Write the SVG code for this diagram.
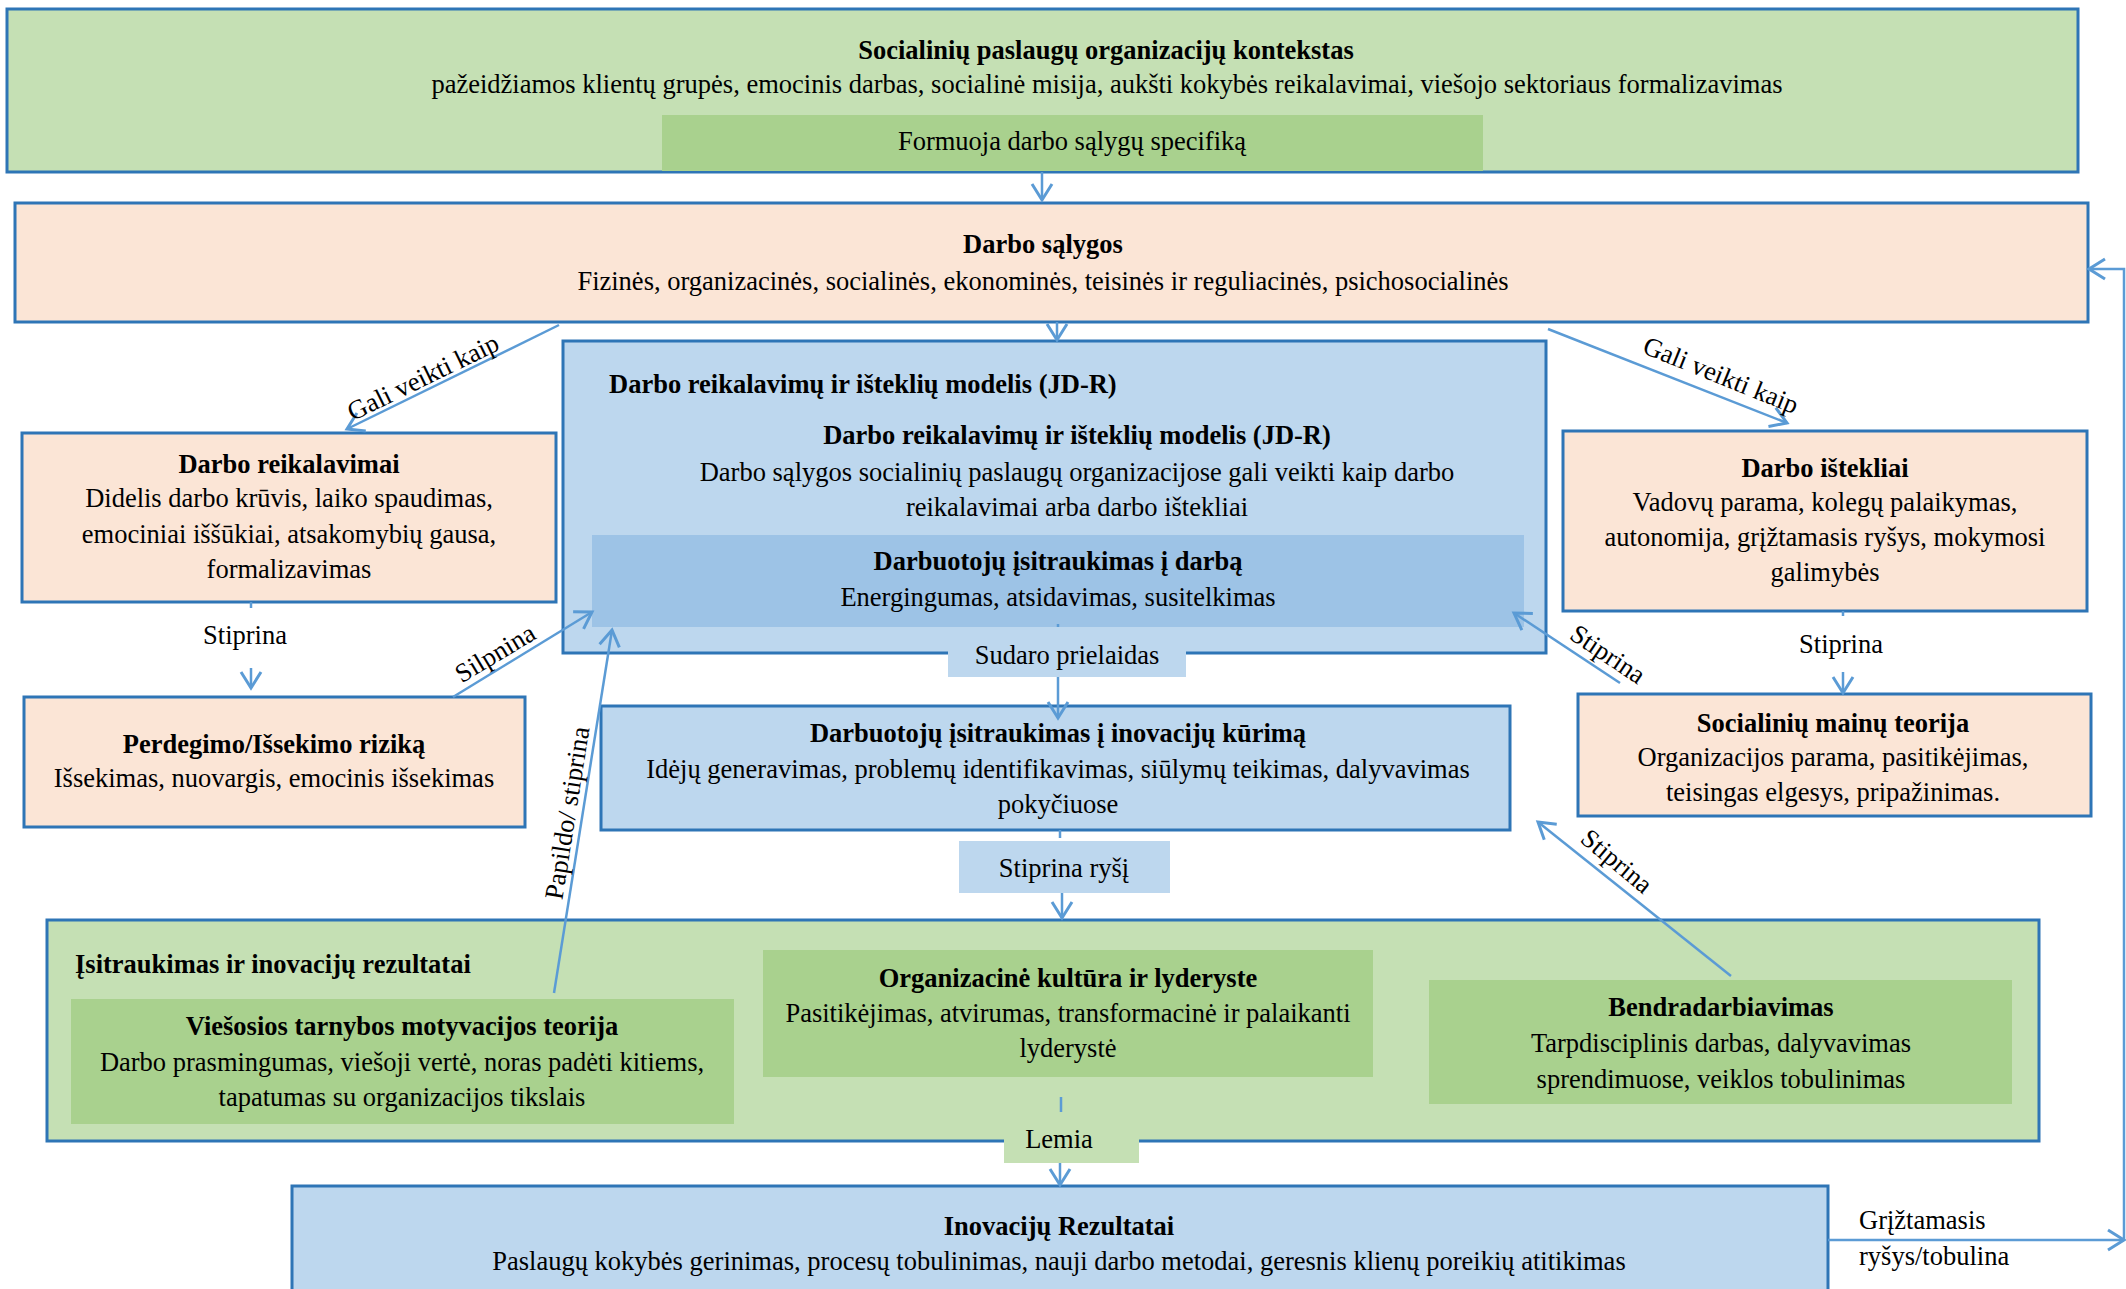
<svg xmlns="http://www.w3.org/2000/svg" width="2126" height="1289" viewBox="0 0 2126 1289">
  <style>
    text { font-family: "Liberation Serif", "Times New Roman", serif; font-size: 26.5px; fill: #000; }
    .c { text-anchor: middle; }
    .b { font-weight: bold; }
    .frame { stroke: #2E75B6; stroke-width: 3; }
    .peach { fill: #FBE5D6; }
    .lgreen { fill: #C5E0B4; }
    .dgreen { fill: #A9D18E; }
    .lblue { fill: #BDD7EE; }
    .dblue { fill: #9DC3E6; }
    .link { fill: none; stroke: #5B9BD5; stroke-width: 2.5; }
    .arrow { marker-end: url(#head); }
  </style>
  <defs>
    <marker id="head" markerUnits="userSpaceOnUse" markerWidth="40" markerHeight="40" viewBox="-20 -20 40 40" refX="0" refY="0" orient="auto" overflow="visible">
      <path d="M-16,-10 L0,0 L-16,10" fill="none" stroke="#5B9BD5" stroke-width="3"/>
    </marker>
  </defs>

  <rect width="2126" height="1289" fill="#fff"/>

  <!-- context -->
  <g id="kontekstas">
    <rect class="lgreen frame" x="7" y="9" width="2071" height="163"/>
    <rect class="dgreen" x="662" y="115" width="821" height="56"/>
    <text class="c b" x="1106" y="59">Socialinių paslaugų organizacijų kontekstas</text>
    <text class="c" x="1107" y="93">pažeidžiamos klientų grupės, emocinis darbas, socialinė misija, aukšti kokybės reikalavimai, viešojo sektoriaus formalizavimas</text>
    <text class="c" x="1072" y="150">Formuoja darbo sąlygų specifiką</text>
  </g>

  <g id="darbo-salygos">
    <rect class="peach frame" x="15" y="203" width="2073" height="119"/>
    <text class="c b" x="1043" y="253">Darbo sąlygos</text>
    <text class="c" x="1043" y="290">Fizinės, organizacinės, socialinės, ekonominės, teisinės ir reguliacinės, psichosocialinės</text>
  </g>

  <g id="jdr-modelis">
    <rect class="lblue frame" x="563" y="341" width="983" height="312"/>
    <text class="b" x="609" y="393">Darbo reikalavimų ir išteklių modelis (JD-R)</text>
    <text class="c b" x="1077" y="444">Darbo reikalavimų ir išteklių modelis (JD-R)</text>
    <text class="c" x="1077" y="481">Darbo sąlygos socialinių paslaugų organizacijose gali veikti kaip darbo</text>
    <text class="c" x="1077" y="516">reikalavimai arba darbo ištekliai</text>
  </g>

  <g id="isitraukimas-darba">
    <rect class="dblue" x="592" y="535" width="932" height="92"/>
    <text class="c b" x="1058" y="570">Darbuotojų įsitraukimas į darbą</text>
    <text class="c" x="1058" y="606">Energingumas, atsidavimas, susitelkimas</text>
  </g>

  <g id="darbo-reikalavimai">
    <rect class="peach frame" x="22" y="433" width="534" height="169"/>
    <text class="c b" x="289" y="473">Darbo reikalavimai</text>
    <text class="c" x="289" y="507">Didelis darbo krūvis, laiko spaudimas,</text>
    <text class="c" x="289" y="543">emociniai iššūkiai, atsakomybių gausa,</text>
    <text class="c" x="289" y="578">formalizavimas</text>
  </g>

  <g id="perdegimas">
    <rect class="peach frame" x="24" y="697" width="501" height="130"/>
    <text class="c b" x="274" y="753">Perdegimo/Išsekimo riziką</text>
    <text class="c" x="274" y="787">Išsekimas, nuovargis, emocinis išsekimas</text>
  </g>

  <g id="darbo-istekliai">
    <rect class="peach frame" x="1563" y="431" width="524" height="180"/>
    <text class="c b" x="1825" y="477">Darbo ištekliai</text>
    <text class="c" x="1825" y="511">Vadovų parama, kolegų palaikymas,</text>
    <text class="c" x="1825" y="546">autonomija, grįžtamasis ryšys, mokymosi</text>
    <text class="c" x="1825" y="581">galimybės</text>
  </g>

  <g id="socialiniu-mainu-teorija">
    <rect class="peach frame" x="1578" y="694" width="513" height="122"/>
    <text class="c b" x="1833" y="732">Socialinių mainų teorija</text>
    <text class="c" x="1833" y="766">Organizacijos parama, pasitikėjimas,</text>
    <text class="c" x="1833" y="801">teisingas elgesys, pripažinimas.</text>
  </g>

  <g id="isitraukimas-inovacijos">
    <rect class="lblue frame" x="601" y="706" width="909" height="124"/>
    <text class="c b" x="1058" y="742">Darbuotojų įsitraukimas į inovacijų kūrimą</text>
    <text class="c" x="1058" y="778">Idėjų generavimas, problemų identifikavimas, siūlymų teikimas, dalyvavimas</text>
    <text class="c" x="1058" y="813">pokyčiuose</text>
  </g>

  <g id="rezultatai">
    <rect class="lgreen frame" x="47" y="920" width="1992" height="221"/>
    <text class="b" x="75" y="973">Įsitraukimas ir inovacijų rezultatai</text>
  </g>

  <g id="viesosios-tarnybos-motyvacija">
    <rect class="dgreen" x="71" y="999" width="663" height="125"/>
    <text class="c b" x="402" y="1035">Viešosios tarnybos motyvacijos teorija</text>
    <text class="c" x="402" y="1071">Darbo prasmingumas, viešoji vertė, noras padėti kitiems,</text>
    <text class="c" x="402" y="1106">tapatumas su organizacijos tikslais</text>
  </g>

  <g id="organizacine-kultura">
    <rect class="dgreen" x="763" y="950" width="610" height="127"/>
    <text class="c b" x="1068" y="987">Organizacinė kultūra ir lyderyste</text>
    <text class="c" x="1068" y="1022">Pasitikėjimas, atvirumas, transformacinė ir palaikanti</text>
    <text class="c" x="1068" y="1057">lyderystė</text>
  </g>

  <g id="bendradarbiavimas">
    <rect class="dgreen" x="1429" y="980" width="583" height="124"/>
    <text class="c b" x="1721" y="1016">Bendradarbiavimas</text>
    <text class="c" x="1721" y="1052">Tarpdisciplinis darbas, dalyvavimas</text>
    <text class="c" x="1721" y="1088">sprendimuose, veiklos tobulinimas</text>
  </g>

  <g id="inovaciju-rezultatai">
    <rect class="lblue frame" x="292" y="1186" width="1536" height="120"/>
    <text class="c b" x="1059" y="1235">Inovacijų Rezultatai</text>
    <text class="c" x="1059" y="1270">Paslaugų kokybės gerinimas, procesų tobulinimas, nauji darbo metodai, geresnis klienų poreikių atitikimas</text>
  </g>

  <!-- connectors -->
  <g id="connectors">
    <line class="link arrow" x1="1042" y1="172" x2="1042" y2="200"/>
    <line class="link arrow" x1="1057" y1="322" x2="1057" y2="340"/>

    <line class="link arrow" x1="559" y1="325" x2="347" y2="429"/>
    <text class="c" transform="translate(423,377) rotate(-26)" y="9">Gali veikti kaip</text>

    <line class="link arrow" x1="1548" y1="329" x2="1787" y2="423"/>
    <text class="c" transform="translate(1721,375) rotate(22)" y="9">Gali veikti kaip</text>

    <line class="link" x1="251" y1="602" x2="251" y2="608"/>
    <text class="c" x="245" y="644">Stiprina</text>
    <line class="link arrow" x1="251" y1="668" x2="251" y2="688"/>

    <line class="link" x1="1843" y1="611" x2="1843" y2="616"/>
    <text class="c" x="1841" y="653">Stiprina</text>
    <line class="link arrow" x1="1843" y1="672" x2="1843" y2="693"/>

    <line class="link arrow" x1="453" y1="697" x2="592" y2="612"/>
    <text class="c" transform="translate(495,653) rotate(-31)" y="9">Silpnina</text>

    <line class="link arrow" x1="554" y1="993" x2="612" y2="630"/>
    <text class="c" transform="translate(567,813) rotate(-81)" y="9">Papildo/ stiprina</text>

    <line class="link arrow" x1="1620" y1="683" x2="1514" y2="613"/>
    <text class="c" transform="translate(1608,654) rotate(34)" y="9">Stiprina</text>

    <line class="link arrow" x1="1731" y1="976" x2="1538" y2="822"/>
    <text class="c" transform="translate(1617,861) rotate(40)" y="9">Stiprina</text>

    <!-- Sudaro prielaidas -->
    <line class="link" x1="1058" y1="624" x2="1058" y2="628"/>
    <rect class="lblue" x="948" y="627" width="238" height="50"/>
    <text class="c" x="1067" y="664">Sudaro prielaidas</text>
    <line class="link arrow" x1="1058" y1="677" x2="1058" y2="718"/>

    <!-- Stiprina ryšį -->
    <line class="link" x1="1060" y1="830" x2="1060" y2="838"/>
    <rect class="lblue" x="959" y="841" width="211" height="52"/>
    <text class="c" x="1064" y="877">Stiprina ryšį</text>
    <line class="link arrow" x1="1062" y1="893" x2="1062" y2="918"/>

    <!-- Lemia -->
    <line class="link" x1="1061" y1="1097" x2="1061" y2="1112"/>
    <rect class="lgreen" x="1004" y="1120" width="135" height="43"/>
    <text class="c" x="1059" y="1148">Lemia</text>
    <line class="link arrow" x1="1060" y1="1163" x2="1060" y2="1185"/>

    <!-- feedback loop -->
    <line class="link arrow" x1="1828" y1="1240" x2="2124" y2="1240"/>
    <path class="link arrow" d="M2124,1240 V269 H2089"/>
    <text x="1859" y="1229">Grįžtamasis</text>
    <text x="1859" y="1265">ryšys/tobulina</text>
  </g>
</svg>
